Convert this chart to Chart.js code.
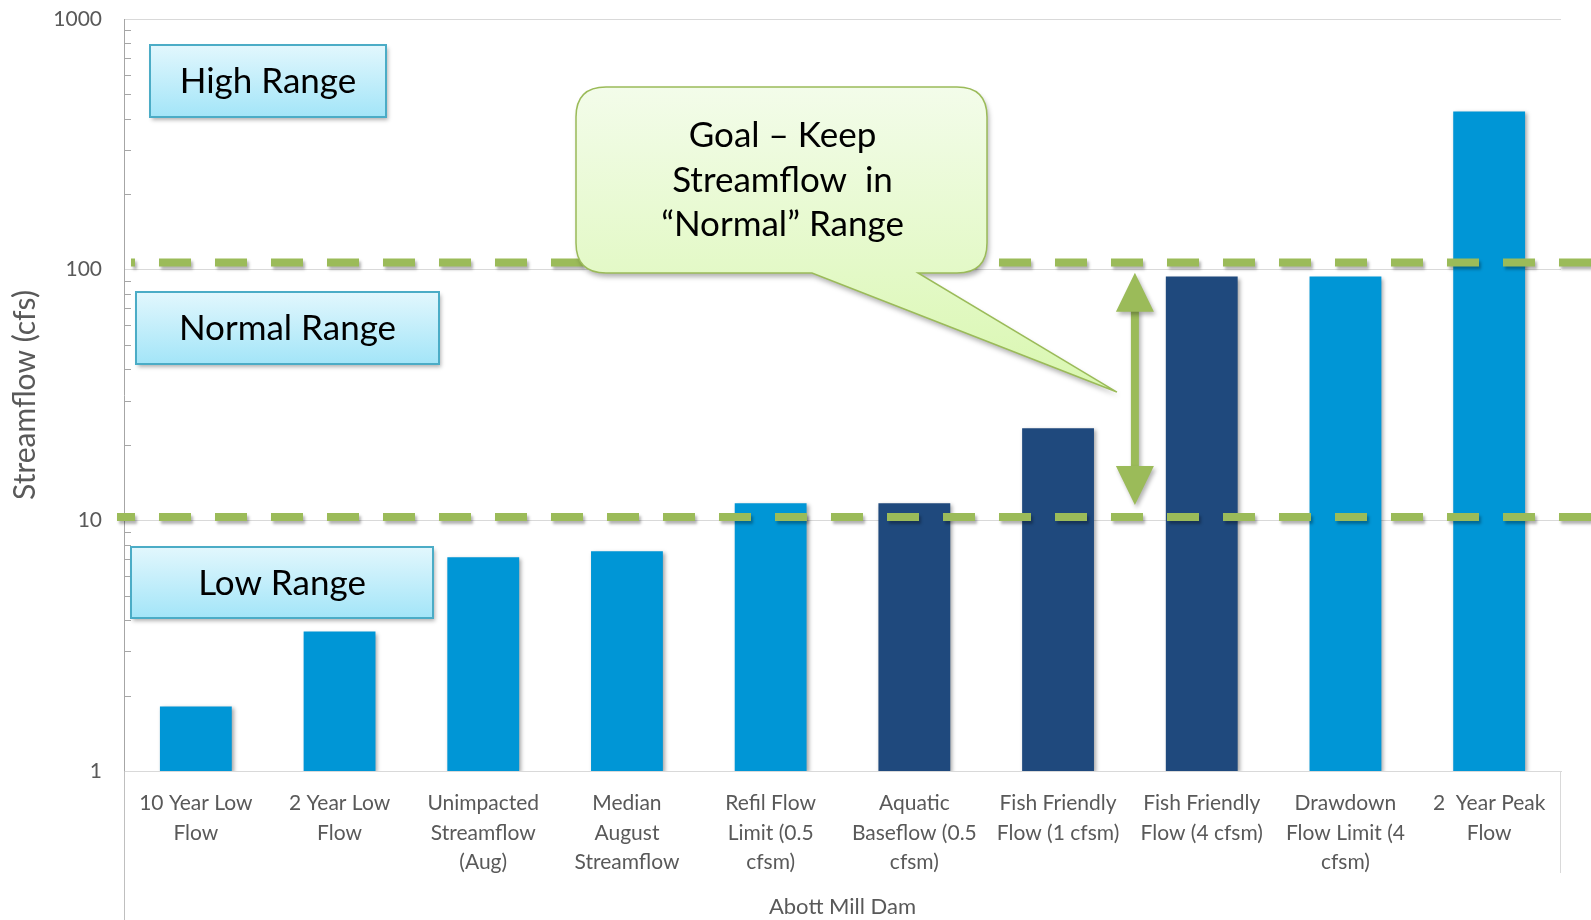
<!DOCTYPE html>
<html>
<head>
<meta charset="utf-8">
<script src="https://cdn.jsdelivr.net/npm/chart.js@4.4.1/dist/chart.umd.min.js"></script>
<style>
  html, body { margin: 0; padding: 0; background: #fff; }
  #wrap { width: 1591px; height: 920px; position: relative; }
</style>
</head>
<body>
<div id="wrap"><canvas id="chart"></canvas></div>
<script>
// categories (multi-line as shown under each bar)
const categories = [
  ['10 Year Low', 'Flow'],
  ['2 Year Low', 'Flow'],
  ['Unimpacted', 'Streamflow', '(Aug)'],
  ['Median', 'August', 'Streamflow'],
  ['Refil Flow', 'Limit (0.5', 'cfsm)'],
  ['Aquatic', 'Baseflow (0.5', 'cfsm)'],
  ['Fish Friendly', 'Flow (1 cfsm)'],
  ['Fish Friendly', 'Flow (4 cfsm)'],
  ['Drawdown', 'Flow Limit (4', 'cfsm)'],
  ['2  Year Peak', 'Flow']
];
// streamflow in cfs
const flows = [1.81, 3.6, 7.12, 7.53, 11.7, 11.7, 23.3, 93.9, 93.9, 428];
const isTarget = [false, false, false, false, false, true, true, true, false, false];
const majorTicks = [1, 10, 100, 1000];
// the two green dashed "normal range" limits
const lowLimit = 10.3;
const highLimit = 106.7;
// double arrow ends
const arrowEnds = [11.5, 97.3];

const LIGHT = '#0096D6';
const DARK = '#1F497D';
const GREEN = '#9BBB59';
const FONT = 'Lato, "Open Sans", sans-serif';

function shadow(ctx, a, dx, dy, blur) {
  ctx.shadowColor = 'rgba(0,0,0,' + a + ')';
  ctx.shadowOffsetX = dx;
  ctx.shadowOffsetY = dy;
  ctx.shadowBlur = blur;
}

function rangeBox(ctx, x, y, w, h, label) {
  ctx.save();
  shadow(ctx, 0.3, 2, 3, 4);
  const g = ctx.createLinearGradient(0, y, 0, y + h);
  g.addColorStop(0, '#E2F7FD');
  g.addColorStop(1, '#A3E5F8');
  ctx.fillStyle = g;
  ctx.fillRect(x, y, w, h);
  ctx.restore();
  ctx.save();
  ctx.strokeStyle = '#4BACC6';
  ctx.lineWidth = 2;
  ctx.strokeRect(x, y, w, h);
  ctx.fillStyle = '#000';
  ctx.font = '35px ' + FONT;
  ctx.textAlign = 'center';
  ctx.textBaseline = 'middle';
  ctx.fillText(label, x + w / 2, y + h / 2 + 1);
  ctx.restore();
}

function callout(ctx, x, y, w, h, r, b1, b2, tx, ty, lines) {
  ctx.save();
  ctx.beginPath();
  ctx.moveTo(x + r, y);
  ctx.lineTo(x + w - r, y);
  ctx.quadraticCurveTo(x + w, y, x + w, y + r);
  ctx.lineTo(x + w, y + h - r);
  ctx.quadraticCurveTo(x + w, y + h, x + w - r, y + h);
  ctx.lineTo(b2, y + h);
  ctx.lineTo(tx, ty);
  ctx.lineTo(b1, y + h);
  ctx.lineTo(x + r, y + h);
  ctx.quadraticCurveTo(x, y + h, x, y + h - r);
  ctx.lineTo(x, y + r);
  ctx.quadraticCurveTo(x, y, x + r, y);
  ctx.closePath();
  const g = ctx.createLinearGradient(0, y, 0, ty);
  g.addColorStop(0, '#F3FCEA');
  g.addColorStop(1, '#D9F7B0');
  ctx.fillStyle = g;
  shadow(ctx, 0.3, 2, 4, 5);
  ctx.fill();
  ctx.shadowColor = 'transparent';
  ctx.strokeStyle = GREEN;
  ctx.lineWidth = 1.5;
  ctx.stroke();
  ctx.fillStyle = '#000';
  ctx.font = '35px ' + FONT;
  ctx.textAlign = 'center';
  ctx.textBaseline = 'middle';
  lines.forEach((t, i) => ctx.fillText(t, x + w / 2 + 1, y + 49 + i * 44.5));
  ctx.restore();
}

const decor = {
  id: 'decor',
  beforeDatasetsDraw(chart) {
    const ctx = chart.ctx;
    ctx.save();
    shadow(ctx, 0.35, 2, 2, 4);
  },
  afterDatasetsDraw(chart) {
    const ctx = chart.ctx;
    ctx.restore();
    const a = chart.chartArea;
    const y = chart.scales.y;
    const x = chart.scales.x;

    // axis frame below the plot
    ctx.save();
    ctx.strokeStyle = '#BFBFBF';
    ctx.lineWidth = 1;
    ctx.beginPath();
    ctx.moveTo(a.left + 0.5, a.bottom);
    ctx.lineTo(a.left + 0.5, chart.height);
    ctx.stroke();
    ctx.strokeStyle = '#D9D9D9';
    ctx.beginPath();
    ctx.moveTo(a.right - 0.5, a.bottom);
    ctx.lineTo(a.right - 0.5, a.bottom + 102);
    ctx.stroke();

    // minor ticks inside the value axis
    ctx.strokeStyle = '#A6A6A6';
    ctx.beginPath();
    for (let d = 1; d < 1000; d *= 10) {
      for (let m = 2; m <= 9; m++) {
        const py = Math.round(y.getPixelForValue(m * d)) + 0.5;
        ctx.moveTo(a.left, py);
        ctx.lineTo(a.left + 7, py);
      }
    }
    ctx.stroke();
    ctx.restore();

    // dashed normal-range limits
    [[lowLimit, a.left - 7], [highLimit, a.left + 7]].forEach(([v, x0]) => {
      const py = y.getPixelForValue(v);
      ctx.save();
      shadow(ctx, 0.3, 2, 3, 3);
      ctx.strokeStyle = GREEN;
      ctx.lineWidth = 8;
      ctx.setLineDash([32, 24]);
      ctx.lineDashOffset = ((x0 - (a.left - 21)) % 56 + 56) % 56;
      ctx.beginPath();
      ctx.moveTo(x0, py);
      ctx.lineTo(chart.width, py);
      ctx.stroke();
      ctx.restore();
    });

    // range labels
    rangeBox(ctx, a.left + 26, a.top + 26, 236, 72, 'High Range');
    rangeBox(ctx, a.left + 12, a.top + 273, 303, 72, 'Normal Range');
    rangeBox(ctx, a.left + 7, a.top + 528, 302, 71, 'Low Range');

    // double arrow between the two limits
    const ax = (x.getPixelForValue(6) + x.getPixelForValue(7)) / 2 + 5;
    const yTop = y.getPixelForValue(arrowEnds[1]);
    const yBot = y.getPixelForValue(arrowEnds[0]);
    ctx.save();
    shadow(ctx, 0.3, 2, 3, 4);
    ctx.fillStyle = GREEN;
    ctx.fillRect(ax - 4, yTop + 36, 8, yBot - yTop - 72);
    ctx.beginPath();
    ctx.moveTo(ax, yTop);
    ctx.lineTo(ax + 19, yTop + 39);
    ctx.lineTo(ax - 19, yTop + 39);
    ctx.closePath();
    ctx.moveTo(ax, yBot);
    ctx.lineTo(ax + 19, yBot - 39);
    ctx.lineTo(ax - 19, yBot - 39);
    ctx.closePath();
    ctx.fill();
    ctx.restore();

    // goal callout pointing at the arrow
    callout(ctx, a.left + 452, a.top + 68, 411, 186, 30,
      a.left + 688, a.left + 794, ax - 18, y.getPixelForValue(32.5),
      ['Goal \u2013 Keep', 'Streamflow  in', '\u201CNormal\u201D Range']);
  }
};

new Chart(document.getElementById('chart'), {
  type: 'bar',
  data: {
    labels: categories,
    datasets: [{
      label: 'Streamflow (cfs)',
      data: flows,
      backgroundColor: isTarget.map(t => t ? DARK : LIGHT),
      borderWidth: 0,
      barPercentage: 0.5,
      categoryPercentage: 1.0
    }]
  },
  options: {
    responsive: true,
    maintainAspectRatio: false,
    animation: false,
    layout: { padding: { left: 0, right: 30, top: 19, bottom: 0 } },
    plugins: { legend: { display: false }, tooltip: { enabled: false } },
    scales: {
      x: {
        grid: { display: false, drawTicks: false },
        border: { display: true, color: '#D9D9D9' },
        ticks: {
          color: '#595959',
          font: { family: FONT, size: 21, lineHeight: 1.4 },
          padding: 18,
          maxRotation: 0,
          autoSkip: false
        },
        title: {
          display: true,
          text: 'Abott Mill Dam',
          color: '#595959',
          font: { family: FONT, size: 22, lineHeight: 1.2 },
          padding: { top: 0, bottom: 0 }
        },
        afterFit: s => { s.height = 149; }
      },
      y: {
        type: 'logarithmic',
        min: 1,
        max: 1000,
        grid: {
          drawTicks: false,
          color: c => majorTicks.includes(c.tick && c.tick.value) ? '#D9D9D9' : 'rgba(0,0,0,0)',
          lineWidth: 1
        },
        border: { display: true, color: '#A6A6A6' },
        ticks: {
          color: '#595959',
          font: { family: FONT, size: 21 },
          padding: 22,
          autoSkip: false,
          callback: v => majorTicks.includes(v) ? String(v) : ''
        },
        title: {
          display: true,
          text: 'Streamflow (cfs)',
          color: '#595959',
          font: { family: FONT, size: 30, lineHeight: 1.2 },
          padding: { top: 7, bottom: 0 }
        },
        afterFit: s => {
          s.width = 124;
          s.paddingTop = 0;
          s.paddingBottom = 0;
        }
      }
    }
  },
  plugins: [decor]
});
</script>
</body>
</html>
